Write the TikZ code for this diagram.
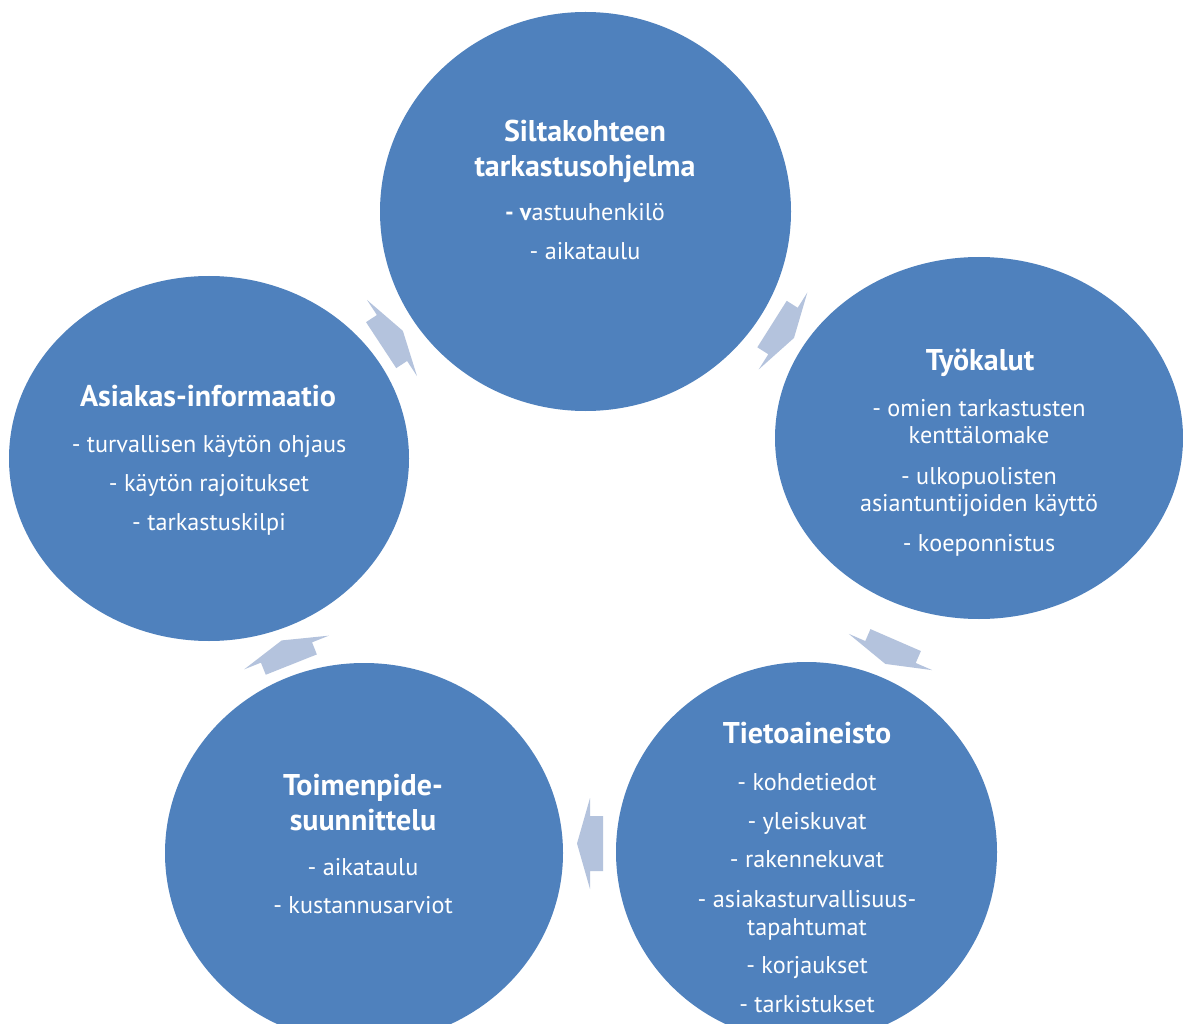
\documentclass[tikz,border=0pt]{standalone}
\usepackage{fontspec}
\setmainfont{PT Sans}
\usetikzlibrary{shapes.geometric}
\definecolor{cblue}{HTML}{4F81BD}
\definecolor{carrow}{HTML}{B4C3DD}
\tikzset{
  disc/.style={ellipse, fill=cblue, draw=none, inner sep=0pt, outer sep=0pt},
  ttl/.style={font=\fontsize{30}{35}\selectfont\bfseries, text=white, anchor=center, inner sep=0pt, text height=0.72em, text depth=0pt, yshift=-5pt},
  itm/.style={font=\fontsize{24.2}{27}\selectfont, text=white, anchor=center, inner sep=0pt, text height=0.72em, text depth=0pt, yshift=-5pt},
  cycarrowfill/.style={fill=carrow, draw=none},
}
\newcommand{\cycarrow}[3]{%
  \begin{scope}[shift={(#1,#2)}, rotate=#3]
    \fill[cycarrowfill] (13,0) -- (0,-45.5) -- (0,-27.5) -- (-13,-27.5) -- (-13,27.5) -- (0,27.5) -- (0,45.5) -- cycle;
  \end{scope}}
\begin{document}
\begin{tikzpicture}[x=1pt, y=-1pt]
  \useasboundingbox (0,0) rectangle (1183,1024);
  \fill[white] (0,0) rectangle (1183,1024);

  % circles
  \node[disc, minimum width=411pt, minimum height=399pt] (ctop) at (585.5,211.5) {};
  \node[disc, minimum width=408pt, minimum height=362pt] (cright) at (979,438) {};
  \node[disc, minimum width=381pt, minimum height=380pt] (cbr) at (806.5,852) {};
  \node[disc, minimum width=398pt, minimum height=380pt] (cbl) at (364,853) {};
  \node[disc, minimum width=400pt, minimum height=365pt] (cleft) at (209,458.5) {};

  % cycle arrows
  \cycarrow{783}{331}{-32.3}
  \cycarrow{890.5}{652}{-113.5}
  \cycarrow{590}{843.5}{180}
  \cycarrow{286.5}{652.5}{111.7}
  \cycarrow{392}{338}{33.3}

  % top circle text
  \node[ttl] (ta) at (585,133) {Siltakohteen};
  \node[ttl] (tb) at (585,168) {tarkastusohjelma};
  \node[itm] (tc) at (585,212) {{\bfseries - v}astuuhenkilö};
  \node[itm] (td) at (585,251) {- aikataulu};

  % right circle text
  \node[ttl] (ra) at (980,362) {Työkalut};
  \node[itm] (rb) at (979,408) {- omien tarkastusten};
  \node[itm] (rc) at (979,435) {kenttälomake};
  \node[itm] (rd) at (979,476) {- ulkopuolisten};
  \node[itm] (re) at (979,503) {asiantuntijoiden käyttö};
  \node[itm] (rf) at (979,543) {- koeponnistus};

  % bottom-right circle text
  \node[ttl] (ba) at (807,735) {Tietoaineisto};
  \node[itm] (bb) at (807,782) {- kohdetiedot};
  \node[itm] (bc) at (807,821) {- yleiskuvat};
  \node[itm] (bd) at (807,859) {- rakennekuvat};
  \node[itm] (be) at (807,899) {- asiakasturvallisuus-};
  \node[itm] (bf) at (807,927) {tapahtumat};
  \node[itm] (bg) at (807,965) {- korjaukset};
  \node[itm] (bh) at (807,1004) {- tarkistukset};

  % bottom-left circle text
  \node[ttl] (la) at (363,787) {Toimenpide-};
  \node[ttl] (lb) at (363,822) {suunnittelu};
  \node[itm] (lc) at (363,867) {- aikataulu};
  \node[itm] (ld) at (363,905) {- kustannusarviot};

  % left circle text
  \node[ttl] (aa) at (208,398) {Asiakas-informaatio};
  \node[itm] (ab) at (209,444) {- turvallisen käytön ohjaus};
  \node[itm] (ac) at (209,483) {- käytön rajoitukset};
  \node[itm] (ad) at (209,522) {- tarkastuskilpi};
\end{tikzpicture}
\end{document}
